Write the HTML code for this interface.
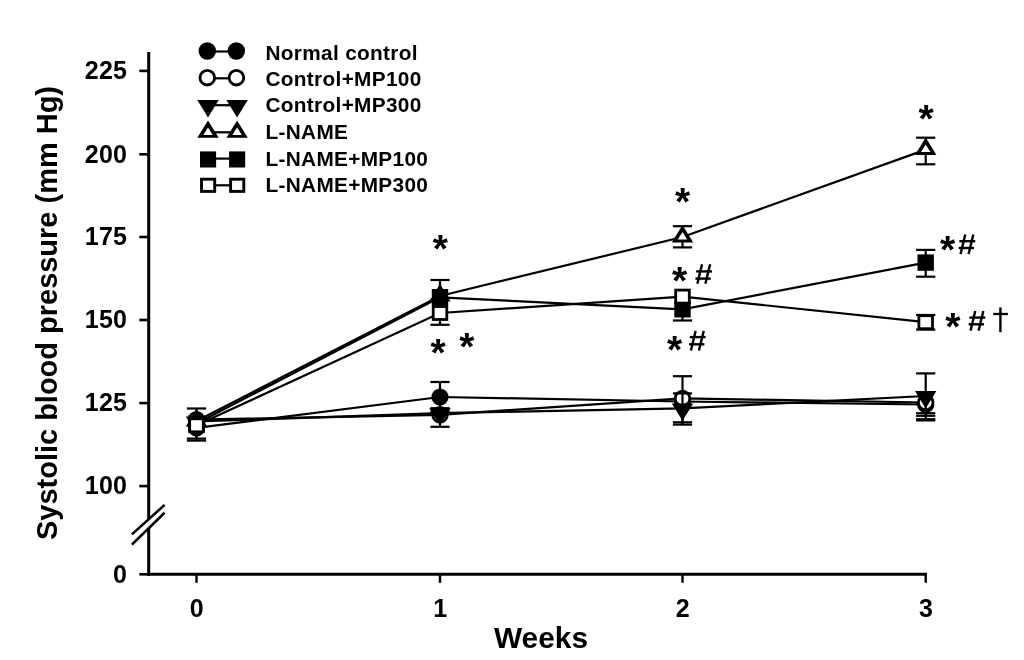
<!DOCTYPE html>
<html><head><meta charset="utf-8"><title>Systolic blood pressure</title>
<style>
html,body{margin:0;padding:0;background:#fff;}
body{width:1024px;height:660px;overflow:hidden;}
svg{display:block;}
text{font-family:"Liberation Sans",sans-serif;fill:#000;}
.tk{font-size:25px;font-weight:bold;letter-spacing:0.3px;}
.tt{font-size:29px;font-weight:bold;}
.ty{font-size:30px;font-weight:bold;}
.lg{font-size:20.8px;font-weight:bold;letter-spacing:0.33px;}
.as{font-size:39.0px;font-weight:bold;}
.hs{font-size:29px;font-weight:normal;}
</style></head><body>
<svg width="1024" height="660" viewBox="0 0 1024 660">
<defs><filter id="soft" x="0" y="0" width="1024" height="660" filterUnits="userSpaceOnUse"><feGaussianBlur stdDeviation="0.6"/></filter></defs>
<g filter="url(#soft)">
<rect x="-5" y="-5" width="1034" height="670" fill="#fff"/>
<line x1="148.7" y1="52" x2="148.7" y2="575.8" stroke="#000" stroke-width="3.0"/>
<line x1="147.2" y1="574.3" x2="927" y2="574.3" stroke="#000" stroke-width="3.0"/>
<line x1="139.3" y1="70.9" x2="148.7" y2="70.9" stroke="#000" stroke-width="2.6"/>
<text x="127.3" y="79.1" text-anchor="end" class="tk">225</text>
<line x1="139.3" y1="154.3" x2="148.7" y2="154.3" stroke="#000" stroke-width="2.6"/>
<text x="127.3" y="162.5" text-anchor="end" class="tk">200</text>
<line x1="139.3" y1="237.0" x2="148.7" y2="237.0" stroke="#000" stroke-width="2.6"/>
<text x="127.3" y="245.2" text-anchor="end" class="tk">175</text>
<line x1="139.3" y1="320.0" x2="148.7" y2="320.0" stroke="#000" stroke-width="2.6"/>
<text x="127.3" y="328.2" text-anchor="end" class="tk">150</text>
<line x1="139.3" y1="403.1" x2="148.7" y2="403.1" stroke="#000" stroke-width="2.6"/>
<text x="127.3" y="411.3" text-anchor="end" class="tk">125</text>
<line x1="139.3" y1="486.1" x2="148.7" y2="486.1" stroke="#000" stroke-width="2.6"/>
<text x="127.3" y="494.3" text-anchor="end" class="tk">100</text>
<line x1="139.3" y1="574.3" x2="148.7" y2="574.3" stroke="#000" stroke-width="2.6"/>
<text x="127.3" y="582.5" text-anchor="end" class="tk">0</text>
<line x1="196.5" y1="574.3" x2="196.5" y2="582.8" stroke="#000" stroke-width="2.4"/>
<text x="196.8" y="617.0" text-anchor="middle" class="tk">0</text>
<line x1="440.0" y1="574.3" x2="440.0" y2="582.8" stroke="#000" stroke-width="2.4"/>
<text x="440.3" y="617.0" text-anchor="middle" class="tk">1</text>
<line x1="682.5" y1="574.3" x2="682.5" y2="582.8" stroke="#000" stroke-width="2.4"/>
<text x="682.8" y="617.0" text-anchor="middle" class="tk">2</text>
<line x1="925.7" y1="574.3" x2="925.7" y2="582.8" stroke="#000" stroke-width="2.4"/>
<text x="926.0" y="617.0" text-anchor="middle" class="tk">3</text>
<polygon points="140,527.1 158,510.9 158,518.8 140,536.3" fill="#fff"/>
<line x1="131.9" y1="534.4" x2="164.6" y2="504.9" stroke="#000" stroke-width="2.6"/>
<line x1="131.9" y1="544.6" x2="164.6" y2="512.8" stroke="#000" stroke-width="2.6"/>
<text x="494.0" y="647.6" class="tt" textLength="94" lengthAdjust="spacingAndGlyphs">Weeks</text>
<text transform="translate(57.3,540) rotate(-90)" x="0" y="0" class="ty" textLength="454" lengthAdjust="spacingAndGlyphs">Systolic blood pressure (mm Hg)</text>
<polyline fill="none" stroke="#000" stroke-width="2.2" points="196.5,427.8 440.0,397.0 682.5,401.5 925.7,404.5"/>
<line x1="196.5" y1="418.0" x2="196.5" y2="438.6" stroke="#000" stroke-width="2.2"/><line x1="186.9" y1="438.6" x2="206.1" y2="438.6" stroke="#000" stroke-width="2.2"/>
<line x1="440.0" y1="382.0" x2="440.0" y2="412.0" stroke="#000" stroke-width="2.2"/><line x1="430.4" y1="382.0" x2="449.6" y2="382.0" stroke="#000" stroke-width="2.2"/><line x1="430.4" y1="412.0" x2="449.6" y2="412.0" stroke="#000" stroke-width="2.2"/>
<line x1="682.5" y1="396.0" x2="682.5" y2="407.0" stroke="#000" stroke-width="2.2"/>
<line x1="925.7" y1="393.0" x2="925.7" y2="415.8" stroke="#000" stroke-width="2.2"/><line x1="916.1" y1="415.8" x2="935.3" y2="415.8" stroke="#000" stroke-width="2.2"/>
<circle cx="196.5" cy="427.8" r="8.6" fill="#000"/>
<circle cx="440.0" cy="397.0" r="8.6" fill="#000"/>
<circle cx="682.5" cy="401.5" r="8.6" fill="#000"/>
<circle cx="925.7" cy="404.5" r="8.6" fill="#000"/>
<polyline fill="none" stroke="#000" stroke-width="2.2" points="196.5,419.7 440.0,414.8 682.5,398.4 925.7,402.5"/>
<line x1="196.5" y1="408.5" x2="196.5" y2="430.9" stroke="#000" stroke-width="2.2"/><line x1="186.9" y1="408.5" x2="206.1" y2="408.5" stroke="#000" stroke-width="2.2"/>
<line x1="440.0" y1="408.2" x2="440.0" y2="426.8" stroke="#000" stroke-width="2.2"/><line x1="430.4" y1="408.2" x2="449.6" y2="408.2" stroke="#000" stroke-width="2.2"/><line x1="430.4" y1="426.8" x2="449.6" y2="426.8" stroke="#000" stroke-width="2.2"/>
<line x1="682.5" y1="376.2" x2="682.5" y2="422.3" stroke="#000" stroke-width="2.2"/><line x1="672.9" y1="376.2" x2="692.1" y2="376.2" stroke="#000" stroke-width="2.2"/><line x1="672.9" y1="422.3" x2="692.1" y2="422.3" stroke="#000" stroke-width="2.2"/>
<line x1="925.7" y1="392.5" x2="925.7" y2="413.2" stroke="#000" stroke-width="2.2"/><line x1="916.1" y1="413.2" x2="935.3" y2="413.2" stroke="#000" stroke-width="2.2"/>
<circle cx="196.5" cy="419.7" r="7.3" fill="#fff" stroke="#000" stroke-width="2.8"/>
<circle cx="440.0" cy="414.8" r="7.3" fill="#fff" stroke="#000" stroke-width="2.8"/>
<circle cx="682.5" cy="398.4" r="7.3" fill="#fff" stroke="#000" stroke-width="2.8"/>
<circle cx="925.7" cy="402.5" r="7.3" fill="#fff" stroke="#000" stroke-width="2.8"/>
<polyline fill="none" stroke="#000" stroke-width="2.2" points="196.5,421.5 440.0,413.1 682.5,408.3 925.7,396.0"/>
<line x1="196.5" y1="416.0" x2="196.5" y2="430.0" stroke="#000" stroke-width="2.2"/>
<line x1="440.0" y1="409.0" x2="440.0" y2="424.0" stroke="#000" stroke-width="2.2"/>
<line x1="682.5" y1="393.4" x2="682.5" y2="424.6" stroke="#000" stroke-width="2.2"/><line x1="672.9" y1="393.4" x2="692.1" y2="393.4" stroke="#000" stroke-width="2.2"/><line x1="672.9" y1="424.6" x2="692.1" y2="424.6" stroke="#000" stroke-width="2.2"/>
<line x1="925.7" y1="373.4" x2="925.7" y2="419.2" stroke="#000" stroke-width="2.2"/><line x1="916.1" y1="373.4" x2="935.3" y2="373.4" stroke="#000" stroke-width="2.2"/><line x1="916.1" y1="419.2" x2="935.3" y2="419.2" stroke="#000" stroke-width="2.2"/>
<polygon points="185.8,416.6 207.2,416.6 196.5,434.0" fill="#000"/>
<polygon points="429.3,408.2 450.7,408.2 440.0,425.6" fill="#000"/>
<polygon points="671.8,403.4 693.2,403.4 682.5,420.8" fill="#000"/>
<polygon points="915.0,391.1 936.4,391.1 925.7,408.5" fill="#000"/>
<polyline fill="none" stroke="#000" stroke-width="2.2" points="196.5,421.0 440.0,296.0 682.5,237.0 925.7,149.6"/>
<line x1="196.5" y1="416.0" x2="196.5" y2="430.0" stroke="#000" stroke-width="2.2"/>
<line x1="440.0" y1="280.0" x2="440.0" y2="305.0" stroke="#000" stroke-width="2.2"/><line x1="430.4" y1="280.0" x2="449.6" y2="280.0" stroke="#000" stroke-width="2.2"/>
<line x1="682.5" y1="226.2" x2="682.5" y2="247.4" stroke="#000" stroke-width="2.2"/><line x1="672.9" y1="226.2" x2="692.1" y2="226.2" stroke="#000" stroke-width="2.2"/><line x1="672.9" y1="247.4" x2="692.1" y2="247.4" stroke="#000" stroke-width="2.2"/>
<line x1="925.7" y1="137.7" x2="925.7" y2="164.3" stroke="#000" stroke-width="2.2"/><line x1="916.1" y1="137.7" x2="935.3" y2="137.7" stroke="#000" stroke-width="2.2"/><line x1="916.1" y1="164.3" x2="935.3" y2="164.3" stroke="#000" stroke-width="2.2"/>
<polygon points="185.8,426.4 207.2,426.4 196.5,409.0" fill="#000"/><polygon points="191.8,423.5 201.2,423.5 196.5,416.0" fill="#fff"/>
<polygon points="429.3,301.4 450.7,301.4 440.0,284.0" fill="#000"/><polygon points="435.3,298.5 444.7,298.5 440.0,291.0" fill="#fff"/>
<polygon points="671.8,242.4 693.2,242.4 682.5,225.0" fill="#000"/><polygon points="677.8,239.5 687.2,239.5 682.5,232.0" fill="#fff"/>
<polygon points="915.0,155.0 936.4,155.0 925.7,137.6" fill="#000"/><polygon points="921.0,152.1 930.4,152.1 925.7,144.6" fill="#fff"/>
<polyline fill="none" stroke="#000" stroke-width="2.2" points="196.5,423.4 440.0,297.3 682.5,309.3 925.7,262.6"/>
<line x1="196.5" y1="416.0" x2="196.5" y2="431.0" stroke="#000" stroke-width="2.2"/>
<line x1="440.0" y1="281.0" x2="440.0" y2="304.0" stroke="#000" stroke-width="2.2"/>
<line x1="682.5" y1="304.0" x2="682.5" y2="320.5" stroke="#000" stroke-width="2.2"/><line x1="672.9" y1="320.5" x2="692.1" y2="320.5" stroke="#000" stroke-width="2.2"/>
<line x1="925.7" y1="249.9" x2="925.7" y2="276.7" stroke="#000" stroke-width="2.2"/><line x1="916.1" y1="249.9" x2="935.3" y2="249.9" stroke="#000" stroke-width="2.2"/><line x1="916.1" y1="276.7" x2="935.3" y2="276.7" stroke="#000" stroke-width="2.2"/>
<rect x="188.3" y="415.2" width="16.4" height="16.4" fill="#000"/>
<rect x="431.8" y="289.1" width="16.4" height="16.4" fill="#000"/>
<rect x="674.3" y="301.1" width="16.4" height="16.4" fill="#000"/>
<rect x="917.5" y="254.4" width="16.4" height="16.4" fill="#000"/>
<polyline fill="none" stroke="#000" stroke-width="2.2" points="196.5,425.3 440.0,313.0 682.5,296.6 925.7,322.2"/>
<line x1="196.5" y1="416.0" x2="196.5" y2="440.6" stroke="#000" stroke-width="2.2"/><line x1="186.9" y1="440.6" x2="206.1" y2="440.6" stroke="#000" stroke-width="2.2"/>
<line x1="440.0" y1="301.5" x2="440.0" y2="324.8" stroke="#000" stroke-width="2.2"/><line x1="430.4" y1="324.8" x2="449.6" y2="324.8" stroke="#000" stroke-width="2.2"/>
<line x1="682.5" y1="292.0" x2="682.5" y2="301.0" stroke="#000" stroke-width="2.2"/>
<line x1="925.7" y1="315.0" x2="925.7" y2="329.6" stroke="#000" stroke-width="2.2"/><line x1="916.1" y1="315.0" x2="935.3" y2="315.0" stroke="#000" stroke-width="2.2"/><line x1="916.1" y1="329.6" x2="935.3" y2="329.6" stroke="#000" stroke-width="2.2"/>
<rect x="189.7" y="418.8" width="13.6" height="13.0" fill="#fff" stroke="#000" stroke-width="2.8"/>
<rect x="433.2" y="306.5" width="13.6" height="13.0" fill="#fff" stroke="#000" stroke-width="2.8"/>
<rect x="675.7" y="290.1" width="13.6" height="13.0" fill="#fff" stroke="#000" stroke-width="2.8"/>
<rect x="918.9" y="315.7" width="13.6" height="13.0" fill="#fff" stroke="#000" stroke-width="2.8"/>
<line x1="916.1" y1="420.4" x2="935.3" y2="420.4" stroke="#000" stroke-width="2.2"/>
<line x1="207.3" y1="51.5" x2="236.3" y2="51.5" stroke="#000" stroke-width="2.2"/>
<circle cx="207.3" cy="51.0" r="8.7" fill="#000"/>
<circle cx="236.3" cy="51.0" r="8.7" fill="#000"/>
<text x="265.4" y="59.5" class="lg">Normal control</text>
<line x1="207.3" y1="78.3" x2="236.4" y2="78.3" stroke="#000" stroke-width="2.2"/>
<circle cx="207.3" cy="77.7" r="7.3" fill="#fff" stroke="#000" stroke-width="2.8"/>
<circle cx="236.4" cy="77.7" r="7.3" fill="#fff" stroke="#000" stroke-width="2.8"/>
<text x="265.4" y="86.0" class="lg">Control+MP100</text>
<line x1="208.0" y1="105.2" x2="237.1" y2="105.2" stroke="#000" stroke-width="2.2"/>
<polygon points="197.3,100.1 218.7,100.1 208.0,117.5" fill="#000"/>
<polygon points="226.4,100.1 247.8,100.1 237.1,117.5" fill="#000"/>
<text x="265.4" y="112.2" class="lg">Control+MP300</text>
<line x1="208.0" y1="132.3" x2="237.1" y2="132.3" stroke="#000" stroke-width="2.2"/>
<polygon points="197.3,137.8 218.7,137.8 208.0,120.4" fill="#000"/><polygon points="203.3,134.9 212.7,134.9 208.0,127.4" fill="#fff"/>
<polygon points="226.4,137.8 247.8,137.8 237.1,120.4" fill="#000"/><polygon points="232.4,134.9 241.8,134.9 237.1,127.4" fill="#fff"/>
<text x="265.4" y="139.0" class="lg">L-NAME</text>
<line x1="208.1" y1="158.6" x2="237.2" y2="158.6" stroke="#000" stroke-width="2.2"/>
<rect x="200.0" y="151.4" width="16.1" height="16.1" fill="#000"/>
<rect x="229.1" y="151.4" width="16.1" height="16.1" fill="#000"/>
<text x="265.4" y="165.5" class="lg">L-NAME+MP100</text>
<line x1="208.1" y1="185.3" x2="237.2" y2="185.3" stroke="#000" stroke-width="2.2"/>
<rect x="201.5" y="179.2" width="13.2" height="12.2" fill="#fff" stroke="#000" stroke-width="2.9"/>
<rect x="230.6" y="179.2" width="13.2" height="12.2" fill="#fff" stroke="#000" stroke-width="2.9"/>
<text x="265.4" y="192.0" class="lg">L-NAME+MP300</text>
<text x="432.7" y="261.8" class="as">*</text>
<text x="430.5" y="366.3" class="as">*</text>
<text x="459.2" y="359.5" class="as">*</text>
<text x="674.9" y="215.1" class="as">*</text>
<text x="671.9" y="293.6" class="as">*</text>
<text x="666.9" y="363.1" class="as">*</text>
<text x="918.5" y="132.2" class="as">*</text>
<text x="940.0" y="263.3" class="as">*</text>
<text x="945.2" y="339.8" class="as">*</text>
<line x1="702.05" y1="264.20" x2="697.35" y2="283.80" stroke="#000" stroke-width="2.4"/><line x1="710.15" y1="264.20" x2="705.35" y2="283.80" stroke="#000" stroke-width="2.4"/><line x1="696.15" y1="271.40" x2="712.05" y2="271.40" stroke="#000" stroke-width="2.4"/><line x1="695.45" y1="278.60" x2="710.75" y2="278.60" stroke="#000" stroke-width="2.4"/>
<line x1="695.65" y1="330.90" x2="690.95" y2="350.50" stroke="#000" stroke-width="2.4"/><line x1="703.75" y1="330.90" x2="698.95" y2="350.50" stroke="#000" stroke-width="2.4"/><line x1="689.75" y1="337.10" x2="705.65" y2="337.10" stroke="#000" stroke-width="2.4"/><line x1="689.05" y1="344.30" x2="704.35" y2="344.30" stroke="#000" stroke-width="2.4"/>
<line x1="965.25" y1="234.50" x2="960.55" y2="254.10" stroke="#000" stroke-width="2.4"/><line x1="973.35" y1="234.50" x2="968.55" y2="254.10" stroke="#000" stroke-width="2.4"/><line x1="959.35" y1="241.20" x2="975.25" y2="241.20" stroke="#000" stroke-width="2.4"/><line x1="958.65" y1="248.00" x2="973.95" y2="248.00" stroke="#000" stroke-width="2.4"/>
<line x1="975.25" y1="311.05" x2="970.55" y2="330.65" stroke="#000" stroke-width="2.4"/><line x1="983.35" y1="311.05" x2="978.55" y2="330.65" stroke="#000" stroke-width="2.4"/><line x1="969.35" y1="317.60" x2="985.25" y2="317.60" stroke="#000" stroke-width="2.4"/><line x1="968.65" y1="324.30" x2="983.95" y2="324.30" stroke="#000" stroke-width="2.4"/>
<line x1="1000.4" y1="307.4" x2="1000.4" y2="332.2" stroke="#000" stroke-width="2.4"/>
<line x1="993.2" y1="314.0" x2="1007.9" y2="314.0" stroke="#000" stroke-width="2.3"/>
</g>
</svg>
</body></html>
